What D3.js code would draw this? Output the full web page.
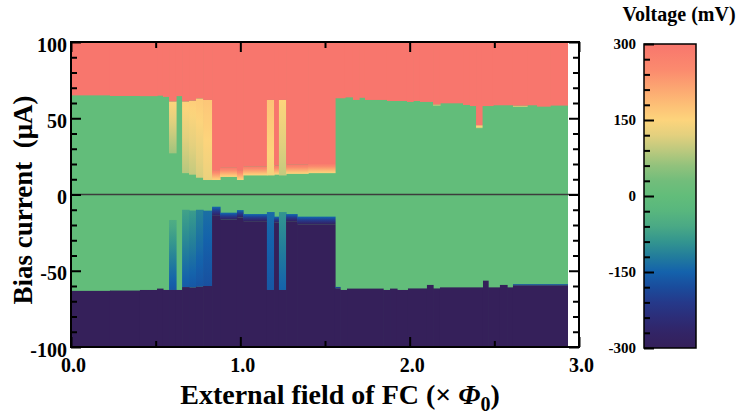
<!DOCTYPE html>
<html>
<head>
<meta charset="utf-8">
<script src="https://cdn.jsdelivr.net/npm/d3@7"></script>
<style>
  body { margin: 0; background: #fff; }
</style>
</head>
<body>
<svg id="chart" width="740" height="418"></svg>
<script>
// field axis (x Phi0) where the measured columns stop
const fieldEnd = 2.935;

// positive bias branch, one entry per run of columns
// start field, current where 0 mV state ends (Ir), current where 300 mV state starts (Ic),
// voltage just above Ir and just below Ic (resistive runs only)
const upStart = [0, 0.230, 0.407, 0.508, 0.543, 0.579, 0.620, 0.656, 0.697, 0.738,
                 0.780, 0.833, 0.880, 0.980, 1.016, 1.157, 1.199, 1.228, 1.270, 1.400,
                 1.559, 1.618, 1.665, 1.701, 1.736, 1.866, 1.984, 2.020, 2.061, 2.138,
                 2.179, 2.315, 2.356, 2.392, 2.427, 2.492, 2.610, 2.693, 2.752, 2.829];
const upIr = [65.0, 64.6, 64.5, 64.8, 64.0, 27.0, 64.5, 14.0, 13.0, 11.0,
              9.5, 9.5, 11.5, 9.5, 12.5, 12.5, 13.0, 12.5, 13.5, 14.0,
              63.1, 63.7, 62.0, 63.4, 62.0, 61.3, 60.7, 61.3, 60.7, 58.4,
              59.8, 58.7, 58.0, 43.5, 58.0, 58.5, 57.6, 58.5, 57.6, 58.3];
const upIc = [65.0, 64.6, 64.5, 64.8, 64.0, 61.0, 64.5, 61.0, 61.5, 63.0,
              62.0, 16.0, 17.5, 16.0, 18.5, 62.0, 19.0, 62.0, 19.5, 20.0,
              63.1, 63.7, 62.0, 63.4, 62.0, 61.3, 60.7, 61.3, 60.7, 59.1,
              59.8, 58.7, 58.0, 45.5, 58.0, 58.5, 58.3, 58.5, 57.6, 58.3];
const upVr = [0, 0, 0, 0, 0, 70, 0, 85, 95, 110,
              130, 145, 145, 145, 145, 140, 145, 95, 145, 145,
              0, 0, 0, 0, 0, 0, 0, 0, 0, 150,
              0, 0, 0, 90, 0, 0, 150, 0, 0, 0];
const upVc = [0, 0, 0, 0, 0, 150, 0, 155, 160, 165,
              170, 290, 290, 290, 290, 175, 290, 150, 290, 290,
              0, 0, 0, 0, 0, 0, 0, 0, 0, 220,
              0, 0, 0, 200, 0, 0, 220, 0, 0, 0];

// negative bias branch, same layout
const lowStart = [0, 0.230, 0.407, 0.508, 0.543, 0.579, 0.620, 0.656, 0.697, 0.738,
                  0.780, 0.833, 0.880, 0.980, 1.016, 1.157, 1.199, 1.228, 1.270, 1.335,
                  1.559, 1.589, 1.630, 1.843, 1.884, 1.925, 1.990, 2.102, 2.138, 2.179,
                  2.433, 2.463, 2.533, 2.575, 2.610];
const lowIr = [-63.2, -63.0, -62.6, -61.7, -62.6, -16.7, -62.6, -10.0, -10.5, -10.0,
               -10.6, -8.0, -11.9, -10.2, -12.8, -11.5, -14.5, -11.5, -12.8, -14.5,
               -60.6, -62.6, -61.7, -62.6, -61.7, -62.6, -61.6, -59.3, -61.6, -60.9,
               -56.5, -60.9, -59.3, -60.9, -58.8];
const lowIc = [-63.2, -63.0, -62.6, -61.7, -62.6, -62.6, -62.6, -60.7, -61.0, -60.5,
               -60.0, -14.0, -16.5, -15.0, -17.5, -62.6, -18.5, -62.6, -17.5, -19.5,
               -61.6, -62.6, -61.7, -62.6, -61.7, -62.6, -61.6, -59.3, -61.6, -60.9,
               -56.5, -60.9, -59.3, -60.9, -59.8];
const lowVr = [0, 0, 0, 0, 0, -50, 0, -70, -80, -110,
               -135, -140, -140, -140, -140, -140, -140, -90, -140, -140,
               -150, 0, 0, 0, 0, 0, 0, 0, 0, 0,
               0, 0, 0, 0, -150];
const lowVc = [0, 0, 0, 0, 0, -165, 0, -160, -165, -170,
               -175, -280, -280, -280, -280, -165, -280, -150, -280, -280,
               -250, 0, 0, 0, 0, 0, 0, 0, 0, 0,
               0, 0, 0, 0, -250];

// colour map of the voltage (mV)
const voltStops = [-300, -270, -240, -210, -180, -150, -120, -90, -60, -30,
                   0, 30, 60, 90, 120, 150, 180, 210, 250, 300];
const voltColors = ["#35205a", "#322466", "#2c2d78", "#25398a", "#1a4c9c", "#1462ac",
                    "#227c9c", "#33958f", "#4aa985", "#58b67e", "#62bd7a", "#72bd7b",
                    "#92c27c", "#bcc97e", "#e3d07e", "#fdd47c", "#fdbf76", "#fca872",
                    "#fb8a6e", "#f8766d"];

// ticks
const xMajor = [0, 1, 2, 3], xMinor = [0.5, 1.5, 2.5];
const yMajor = [-100, -50, 0, 50, 100];
const yMinor = [-90, -80, -70, -60, -40, -30, -20, -10, 10, 20, 30, 40, 60, 70, 80, 90];
const vMajor = [-300, -150, 0, 150, 300];
const vMinor = [-270, -240, -210, -180, -120, -90, -60, -30, 30, 60, 90, 120, 180, 210, 240, 270];

const serif = "'Liberation Serif', 'Times New Roman', serif";

const svg = d3.select("#chart");
const defs = svg.append("defs");

const x = d3.scaleLinear().domain([0, 3]).range([71, 579]);
const y = d3.scaleLinear().domain([-100, 100]).range([347, 42]);
const color = d3.scaleLinear().domain(voltStops).range(voltColors).clamp(true);

svg.append("rect").attr("width", 740).attr("height", 418).attr("fill", "#fff");

const plot = svg.append("g");
plot.append("rect")
    .attr("x", x(0)).attr("width", x(fieldEnd) - x(0))
    .attr("y", y(100)).attr("height", y(-100) - y(100))
    .attr("fill", color(0));

let gid = 0;
function gradient(v0, v1, down) {
  const id = "g" + (gid++);
  const g = defs.append("linearGradient").attr("id", id)
      .attr("x1", 0).attr("x2", 0)
      .attr("y1", down ? 0 : 1).attr("y2", down ? 1 : 0);
  d3.range(0, 1.0001, 0.1).forEach(t =>
    g.append("stop").attr("offset", t).attr("stop-color", color(v0 + (v1 - v0) * t)));
  return "url(#" + id + ")";
}

function band(x0, w, i0, i1, fill) {
  plot.append("rect")
      .attr("x", x0).attr("width", w)
      .attr("y", Math.min(y(i0), y(i1)))
      .attr("height", Math.abs(y(i0) - y(i1)))
      .attr("fill", fill);
}

function drawBranch(starts, ir, ic, vr, vc, sign) {
  starts.forEach((s, i) => {
    const last = i === starts.length - 1;
    const e = last ? fieldEnd : starts[i + 1];
    const x0 = x(s), w = x(e) - x(s) + (last ? 0 : 0.6);
    if (ic[i] !== ir[i]) band(x0, w, ir[i], ic[i], gradient(vr[i], vc[i], sign < 0));
    band(x0, w, ic[i], sign * 100, color(sign * 300));
  });
}
drawBranch(upStart, upIr, upIc, upVr, upVc, 1);
drawBranch(lowStart, lowIr, lowIc, lowVr, lowVc, -1);

// zero current line
svg.append("line")
    .attr("x1", x(0)).attr("x2", x(3))
    .attr("y1", y(0)).attr("y2", y(0))
    .attr("stroke", "#3c3c3c").attr("stroke-width", 1.5);

function styleAxis(g, size) {
  g.select(".domain").remove();
  g.attr("font-family", serif).attr("font-size", size).attr("font-weight", "bold");
  g.selectAll(".tick line").attr("stroke", "#000").attr("stroke-width", 2);
  g.selectAll("text").attr("fill", "#000");
}

// left axis
svg.append("g").attr("transform", "translate(71,0)")
    .call(d3.axisLeft(y).tickValues(yMajor).tickSize(-10).tickPadding(4).tickFormat(d => String(d)))
    .call(g => styleAxis(g, 20))
    .call(g => g.selectAll("text").attr("dy", "0.45em"));
svg.append("g").attr("transform", "translate(71,0)")
    .call(d3.axisLeft(y).tickValues(yMinor).tickSize(-6).tickFormat(""))
    .call(g => styleAxis(g, 20));
// right axis
svg.append("g").attr("transform", "translate(579,0)")
    .call(d3.axisRight(y).tickValues(yMajor).tickSize(-10).tickFormat(""))
    .call(g => styleAxis(g, 20));
svg.append("g").attr("transform", "translate(579,0)")
    .call(d3.axisRight(y).tickValues(yMinor).tickSize(-6).tickFormat(""))
    .call(g => styleAxis(g, 20));
// bottom axis
svg.append("g").attr("transform", "translate(0,347)")
    .call(d3.axisBottom(x).tickValues(xMajor).tickSize(-10).tickPadding(11).tickFormat(d3.format(".1f")))
    .call(g => styleAxis(g, 20))
    .call(g => g.selectAll("text").attr("dx", 2));
svg.append("g").attr("transform", "translate(0,347)")
    .call(d3.axisBottom(x).tickValues(xMinor).tickSize(-6).tickFormat(""))
    .call(g => styleAxis(g, 20));
// top axis
svg.append("g").attr("transform", "translate(0,42)")
    .call(d3.axisTop(x).tickValues(xMajor).tickSize(-10).tickFormat(""))
    .call(g => styleAxis(g, 20));
svg.append("g").attr("transform", "translate(0,42)")
    .call(d3.axisTop(x).tickValues(xMinor).tickSize(-6).tickFormat(""))
    .call(g => styleAxis(g, 20));

// frame
svg.append("rect")
    .attr("x", 71).attr("y", 42).attr("width", 508).attr("height", 305)
    .attr("fill", "none").attr("stroke", "#000").attr("stroke-width", 2);

// axis titles
const xt = svg.append("text").attr("x", 340).attr("y", 404)
    .attr("text-anchor", "middle").attr("font-size", 28)
    .attr("font-family", serif).attr("font-weight", "bold");
xt.append("tspan").text("External field of FC (\u00d7 ");
xt.append("tspan").attr("font-style", "italic").text("\u03a6");
xt.append("tspan").attr("font-size", 20).attr("dy", 7).text("0");
xt.append("tspan").attr("dy", -7).text(")");

svg.append("text")
    .attr("transform", "translate(32,200) rotate(-90)")
    .attr("text-anchor", "middle").attr("font-size", 27)
    .attr("font-family", serif).attr("font-weight", "bold")
    .style("white-space", "pre")
    .text("Bias current  (\u03bcA)");

// colour bar
const cy = d3.scaleLinear().domain([-300, 300]).range([348, 44]);
const cbGrad = defs.append("linearGradient").attr("id", "cbar")
    .attr("x1", 0).attr("x2", 0).attr("y1", 1).attr("y2", 0);
voltStops.forEach((v, i) =>
  cbGrad.append("stop").attr("offset", (v + 300) / 600).attr("stop-color", voltColors[i]));
svg.append("rect")
    .attr("x", 644).attr("y", cy(300)).attr("width", 52).attr("height", cy(-300) - cy(300))
    .attr("fill", "url(#cbar)").attr("stroke", "#000").attr("stroke-width", 1.5);
svg.append("g").attr("transform", "translate(644,0)")
    .call(d3.axisLeft(cy).tickValues(vMajor).tickSize(-10).tickPadding(8).tickFormat(d => String(d)))
    .call(g => styleAxis(g, 15));
svg.append("g").attr("transform", "translate(644,0)")
    .call(d3.axisLeft(cy).tickValues(vMinor).tickSize(-6).tickFormat(""))
    .call(g => styleAxis(g, 15));
svg.append("text").attr("x", 679).attr("y", 21)
    .attr("text-anchor", "middle").attr("font-size", 20)
    .attr("font-family", serif).attr("font-weight", "bold")
    .text("Voltage (mV)");
</script>
</body>
</html>
